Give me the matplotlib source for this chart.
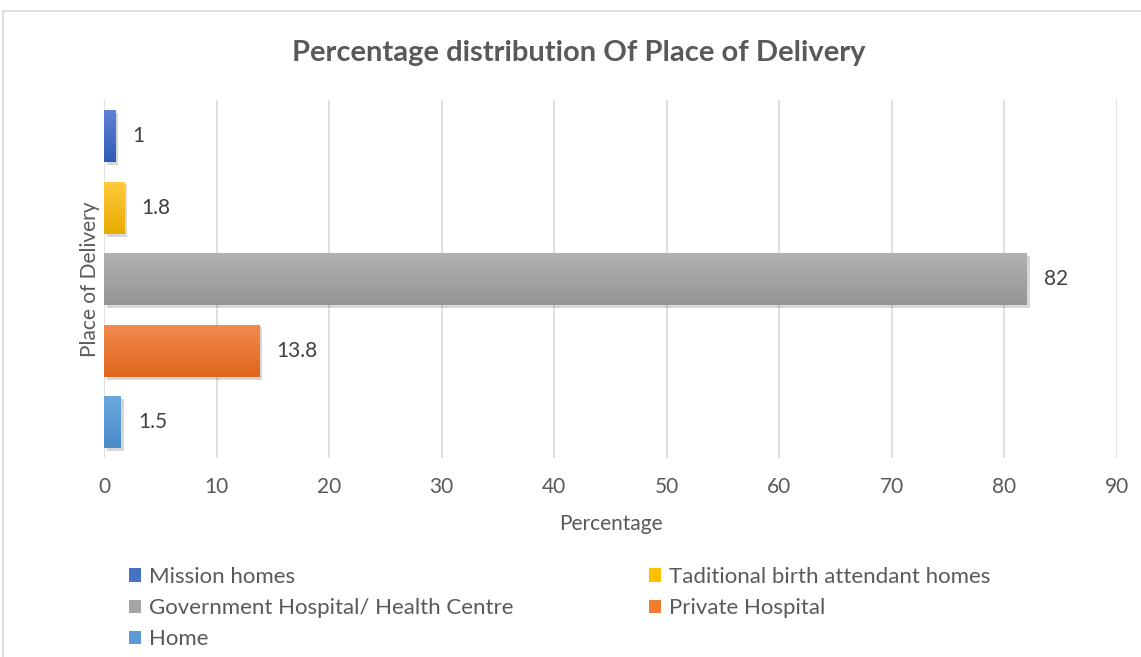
import numpy as np
import matplotlib.pyplot as plt
import matplotlib.patheffects as pe
from matplotlib.colors import LinearSegmentedColormap
from matplotlib.patches import Patch
from matplotlib.lines import Line2D

plt.rcParams['font.family'] = ['Lato', 'DejaVu Sans']

# bottom to top
places = ['Home', 'Private Hospital', 'Government Hospital/ Health Centre',
          'Taditional birth attendant homes', 'Mission homes']
values = [1.5, 13.8, 82, 1.8, 1]
labels = ['1.5', '13.8', '82', '1.8', '1']
tops = ['#6CA8DE', '#F28B4E', '#B2B2B2', '#FFCB3D', '#5F83D3']
bottoms = ['#4A8BC8', '#E0661C', '#959595', '#E8AC00', '#2F5CB6']
solid = ['#5B9BD5', '#ED7D31', '#A5A5A5', '#FFC000', '#4472C4']

fig = plt.figure(figsize=(11.41, 6.57), dpi=100)
ax = fig.add_axes([104 / 1141, 1 - 458 / 657, 1013 / 1141, 357.5 / 657])

y = np.arange(len(places))
bars = ax.barh(y, values, height=0.73, color=solid, zorder=3,
               path_effects=[pe.SimplePatchShadow(offset=(2, -2), alpha=0.25, shadow_rgbFace='#606060'),
                             pe.Normal()])
for rect, c0, c1 in zip(bars, bottoms, tops):
    cmap = LinearSegmentedColormap.from_list('g', [c0, c1])
    x0, y0, w, h = rect.get_x(), rect.get_y(), rect.get_width(), rect.get_height()
    im = ax.imshow(np.linspace(0, 1, 64).reshape(-1, 1), extent=[x0, x0 + w, y0, y0 + h],
                   origin='lower', aspect='auto', cmap=cmap, zorder=4)
    im.set_clip_path(rect)

for yi, v, lab in zip(y, values, labels):
    ax.text(v + 1.5, yi, lab, va='center', ha='left', fontsize=15, color='#404040', zorder=5)

ax.set_xlim(0, 90)
ax.set_ylim(-0.5, len(places) - 0.5)
ax.set_xticks(np.arange(0, 91, 10))
ax.set_yticks([])
ax.grid(axis='x', color='#D9D9D9', linewidth=1.2, zorder=0)
for s in ax.spines.values():
    s.set_visible(False)
ax.tick_params(axis='x', length=0, labelsize=15, labelcolor='#595959', pad=14)
ax.set_xlabel('Percentage', fontsize=15, color='#595959', labelpad=12)
ax.set_ylabel('Place of Delivery', fontsize=15, color='#595959', labelpad=3)

fig.text(0.507, 1 - 53 / 657, 'Percentage distribution Of Place of Delivery',
         ha='center', va='center', fontsize=21, fontweight='bold', color='#595959')

order = [4, 2, 0, 3, 1]
handles = [Patch(facecolor=solid[i], edgecolor='none') for i in order]
names = [places[i] for i in order]
fig.legend(handles, names, ncol=2, loc='upper left', bbox_to_anchor=(109 / 1141, 1 - 547 / 657),
           frameon=False, fontsize=16, labelcolor='#595959', handlelength=0.55, handleheight=0.55,
           handletextpad=0.35, columnspacing=6.1, labelspacing=0.5)

fig.add_artist(Line2D([3 / 1141, 1], [1 - 11 / 657] * 2, color='#D9D9D9', lw=1.2))
fig.add_artist(Line2D([3 / 1141] * 2, [0, 1 - 11 / 657], color='#D9D9D9', lw=1.2))

fig.savefig('out.png', dpi=100)
